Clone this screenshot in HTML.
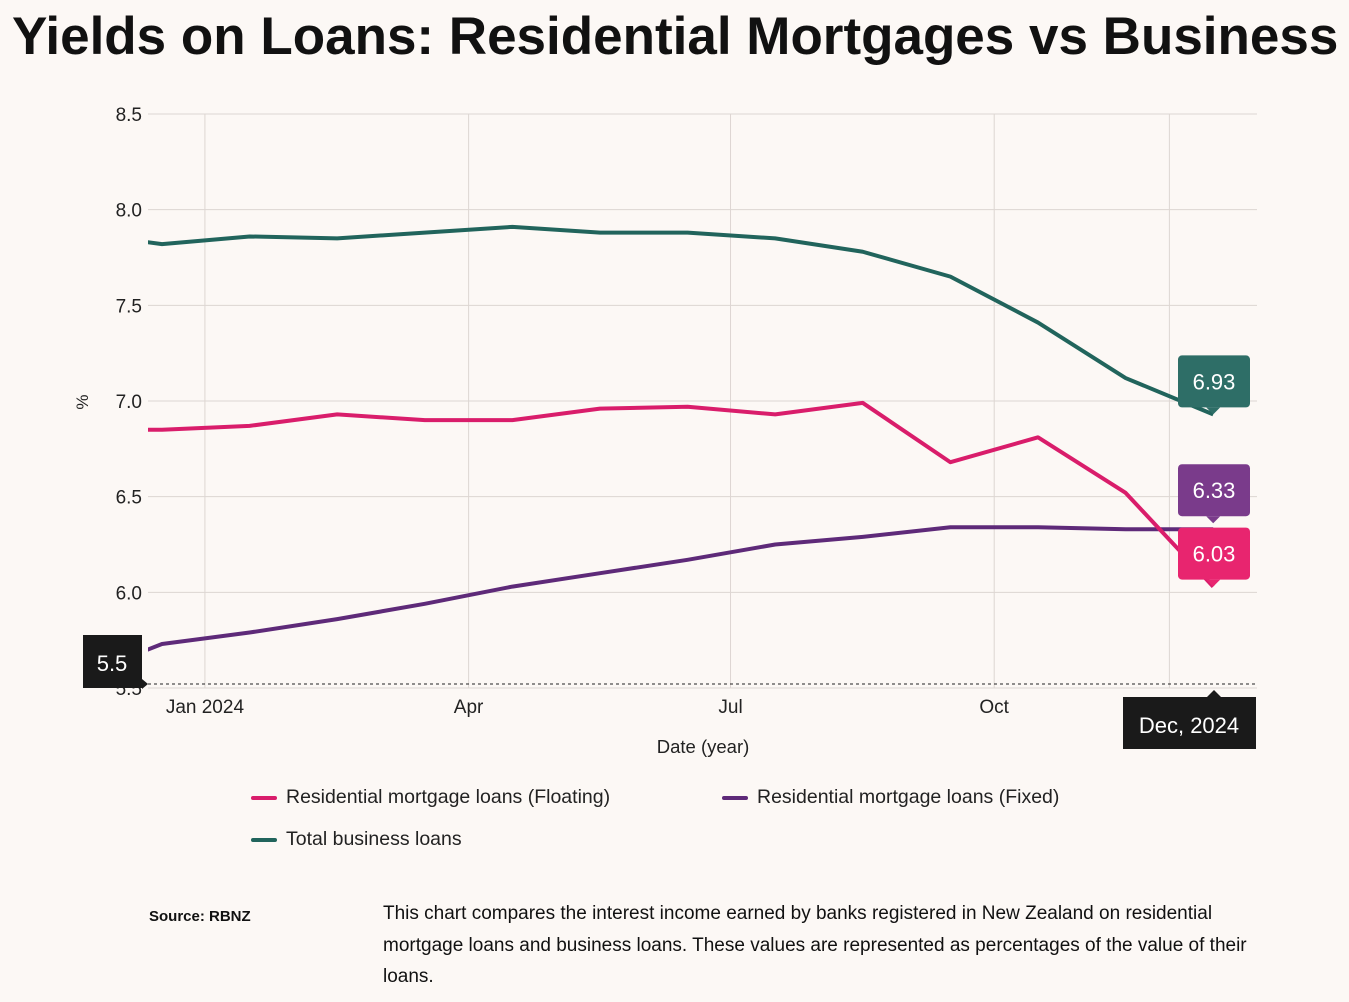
<!DOCTYPE html>
<html><head><meta charset="utf-8">
<style>
body{margin:0;background:#fcf8f5;font-family:"Liberation Sans",sans-serif;width:1349px;height:1002px;overflow:hidden;position:relative}
h1{position:absolute;left:12px;top:6px;margin:0;font-size:53px;font-weight:bold;color:#111;letter-spacing:0px;white-space:nowrap}
.leg{position:absolute;font-size:19.5px;color:#222;display:flex;align-items:center}
.leg span.sw{display:inline-block;width:26px;height:4px;margin-right:9px;border-radius:2px}
</style></head><body>
<h1>Yields on Loans: Residential Mortgages vs Business</h1>
<svg id="chart" width="1349" height="780" style="position:absolute;left:0;top:0" font-family="Liberation Sans, sans-serif"></svg>
<div class="leg" style="left:251px;top:786px"><span class="sw" style="background:#d91d6b"></span>Residential mortgage loans (Floating)</div>
<div class="leg" style="left:722px;top:786px"><span class="sw" style="background:#5e2a79"></span>Residential mortgage loans (Fixed)</div>
<div class="leg" style="left:251px;top:828px"><span class="sw" style="background:#21645c"></span>Total business loans</div>
<div style="position:absolute;left:149px;top:908px;font-size:15px;font-weight:bold;color:#111">Source: RBNZ</div>
<div style="position:absolute;left:383px;top:898px;width:880px;font-size:19px;line-height:31.5px;color:#111">This chart compares the interest income earned by banks registered in New Zealand on residential mortgage loans and business loans. These values are represented as percentages of the value of their loans.</div>
<script>
const months=[-1,0,1,2,3,4,5,6,7,8,9,10,11,12];
const business=[7.88,7.82,7.86,7.85,7.88,7.91,7.88,7.88,7.85,7.78,7.65,7.41,7.12,6.93];
const floating=[6.85,6.85,6.87,6.93,6.90,6.90,6.96,6.97,6.93,6.99,6.68,6.81,6.52,6.03];
const fixed=[5.55,5.73,5.79,5.86,5.94,6.03,6.10,6.17,6.25,6.29,6.34,6.34,6.33,6.33];
const yTicks=[5.5,6.0,6.5,7.0,7.5,8.0,8.5];
const xTickLabels=["Jan 2024","Apr","Jul","Oct","Dec"];
const xTickMonths=[0.49,3.5,6.49,9.5,11.5];
const NS="http://www.w3.org/2000/svg";
const svg=document.getElementById('chart');
const L=148,R=1257,T=114,B=688;
const xs=m=>162+m*87.6;
const ys=v=>B-(v-5.5)/3*(B-T);
function el(t,a,p){const e=document.createElementNS(NS,t);for(const k in a)e.setAttribute(k,a[k]);(p||svg).appendChild(e);return e;}
const defs=el('defs',{});const cp=el('clipPath',{id:'cp'},defs);el('rect',{x:L,y:T-10,width:R-L,height:B-T+10},cp);
yTicks.forEach(v=>{
  const g=el('line',{x1:L,x2:R,y1:ys(v),y2:ys(v),stroke:'#ddd6d2','stroke-width':1});
  
  const t=el('text',{x:142,y:ys(v)+7,'text-anchor':'end','font-size':19,fill:'#222'});t.textContent=v.toFixed(1);
  
});
xTickMonths.forEach((m,i)=>{
  const g=el('line',{x1:xs(m),x2:xs(m),y1:T,y2:B,stroke:'#ddd6d2','stroke-width':1});
  
  const t=el('text',{x:xs(m),y:713,'text-anchor':'middle','font-size':19,fill:i==4?'#333':'#222'});t.textContent=xTickLabels[i];
  
});
const yt=el('text',{x:0,y:0,'font-size':17,fill:'#222','text-anchor':'middle',transform:'translate(88,402) rotate(-90)'});yt.textContent='%';

const xt=el('text',{x:703,y:753,'font-size':18.5,fill:'#222','text-anchor':'middle'});xt.textContent='Date (year)';

function line(vals,col,name){const p=el('path',{d:vals.map((v,i)=>(i?'L':'M')+xs(months[i])+','+ys(v)).join(''),fill:'none',stroke:col,'stroke-width':4,'stroke-linejoin':'round','clip-path':'url(#cp)'});
  }
line(business,'#21645c','business-line');line(fixed,'#5e2a79','fixed-line');line(floating,'#d91d6b','floating-line');
const dl=el('line',{x1:L,x2:R,y1:684,y2:684,stroke:'#222','stroke-width':1,'stroke-dasharray':'3,3'});

function callout(v,col,name,off){const x=xs(12),y=ys(v);const g=el('g',{});
  
  el('rect',{x:1178,y:y-off-52,width:72,height:52,rx:4,fill:col},g);
  el('path',{d:`M${x-7},${y-off}L${x},${y-off+7}L${x+7},${y-off}Z`,fill:col},g);
  const t=el('text',{x:1214,y:y-off-18,'text-anchor':'middle','font-size':22,fill:'#fff'},g);t.textContent=v.toFixed(2);}
callout(business[13],'#2e6e67','callout-business',7);
callout(fixed[13],'#7a3b8b','callout-fixed',13);
callout(floating[13],'#e8256f','callout-floating',7);
const tb=el('g',{});
el('rect',{x:1123,y:697,width:133,height:52,fill:'#1a1a1a'},tb);el('path',{d:'M1207,697L1214,690L1221,697Z',fill:'#1a1a1a'},tb);
const tt=el('text',{x:1189,y:733,'text-anchor':'middle','font-size':22,fill:'#fff'},tb);tt.textContent='Dec, 2024';
const yb=el('g',{});
el('rect',{x:83,y:635,width:59,height:53,fill:'#1a1a1a'},yb);el('path',{d:'M142,679L148,684L142,689Z',fill:'#1a1a1a'},yb);
const yv=el('text',{x:112,y:671,'text-anchor':'middle','font-size':22,fill:'#fff'},yb);yv.textContent='5.5';
</script>
</body></html>
